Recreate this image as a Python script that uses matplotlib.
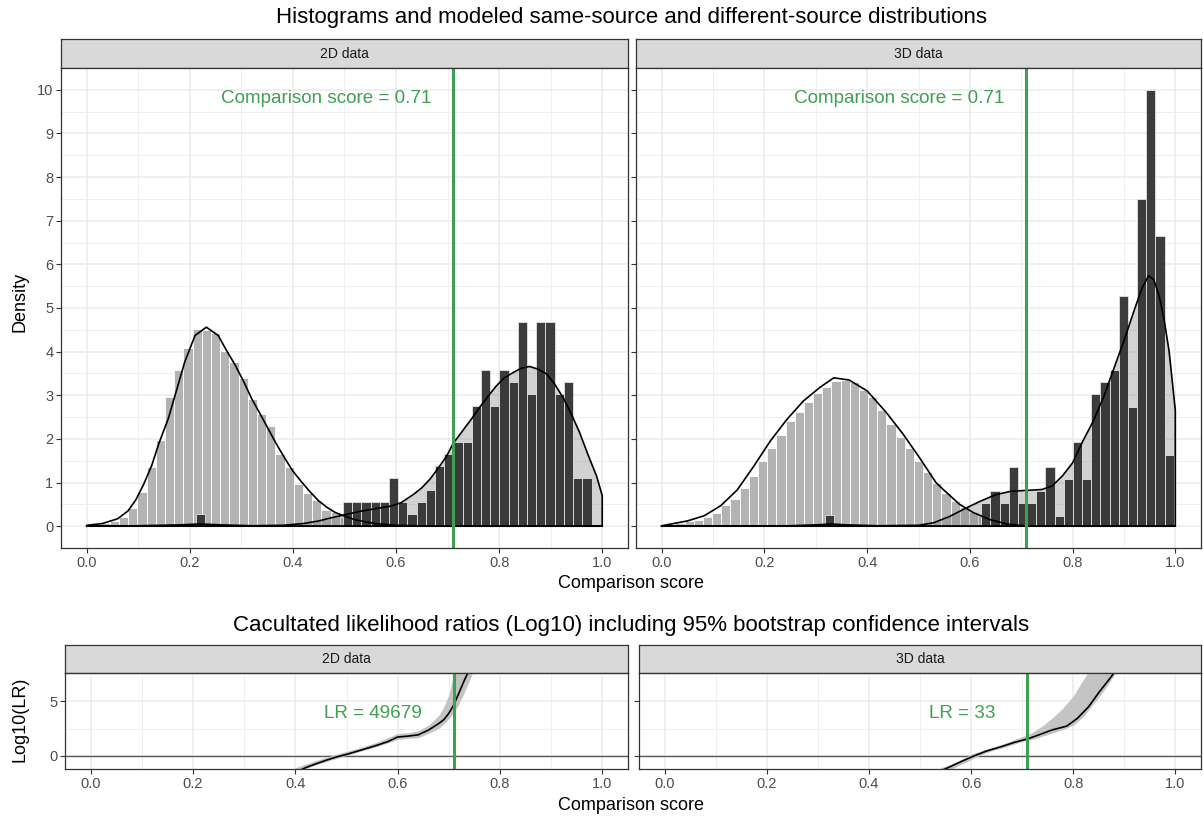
import matplotlib
matplotlib.use('Agg')
import matplotlib.pyplot as plt
import numpy as np

plt.rcParams['font.family'] = ['Liberation Sans', 'DejaVu Sans']

# ---------------- data ----------------
panels = ['2D data', '3D data']
score = 0.71
lr_values = ['49679', '33']
bin_width = 1 / 56
ds_first_center = 0.0
ss_first_center = 0.006

# different-source histogram densities (light bars)
ds_hist_2d = [0.02, 0.04, 0.07, 0.13, 0.21, 0.41, 0.78, 1.35, 1.98, 2.96,
              3.57, 4.08, 4.53, 4.49, 4.43, 4.01, 3.76, 3.39, 2.92, 2.58,
              2.29, 1.66, 1.35, 0.97, 0.76, 0.59, 0.38, 0.32, 0.22, 0.15,
              0.10, 0.07, 0.05, 0.03, 0.02, 0.02, 0.01]
ds_hist_3d = [0.01, 0.04, 0.07, 0.11, 0.15, 0.20, 0.30, 0.48, 0.62, 0.88,
              1.14, 1.50, 1.80, 2.10, 2.40, 2.62, 2.85, 3.05, 3.20, 3.33,
              3.35, 3.30, 3.12, 2.95, 2.66, 2.35, 2.05, 1.80, 1.50, 1.25,
              0.98, 0.76, 0.58, 0.44, 0.32, 0.23, 0.16, 0.11, 0.07, 0.04,
              0.02, 0.01]
# same-source histogram densities (dark bars)
ss_hist_2d = [0, 0, 0, 0, 0, 0, 0, 0, 0, 0,
              0, 0, 0.27, 0, 0, 0, 0, 0, 0, 0,
              0, 0, 0, 0, 0, 0, 0, 0, 0.55, 0.55,
              0.55, 0.55, 0.55, 1.10, 0.55, 0.27, 0.55, 0.82, 1.37, 1.65,
              1.92, 1.92, 2.75, 3.57, 2.75, 3.57, 3.30, 4.67, 3.02, 4.67,
              4.67, 3.02, 3.30, 1.10, 1.10, 0]
ss_hist_3d = [0, 0, 0, 0, 0, 0, 0, 0, 0, 0,
              0, 0, 0, 0, 0, 0, 0, 0, 0.25, 0,
              0, 0, 0, 0, 0, 0, 0, 0, 0, 0,
              0, 0, 0, 0, 0, 0.52, 0.80, 0.52, 1.36, 0.52,
              0.52, 0.80, 1.36, 0.24, 1.08, 1.92, 1.08, 3.03, 3.31, 3.59,
              5.27, 2.74, 7.49, 10.0, 6.64, 1.63]

# modeled densities
ds_curve_2d_x = [0.0, 0.03, 0.06, 0.08, 0.095, 0.11, 0.126, 0.14, 0.158, 0.175,
                 0.19, 0.21, 0.232, 0.255, 0.27, 0.288, 0.305, 0.32, 0.336, 0.352,
                 0.368, 0.385, 0.40, 0.417, 0.433, 0.449, 0.465, 0.481, 0.50, 0.52,
                 0.54, 0.56, 0.58, 0.60, 0.64, 0.70, 1.0]
ds_curve_2d_y = [0.02, 0.06, 0.17, 0.35, 0.60, 0.95, 1.39, 1.90, 2.46, 3.15,
                 3.76, 4.37, 4.56, 4.37, 4.05, 3.69, 3.30, 2.92, 2.58, 2.23,
                 1.88, 1.54, 1.26, 1.01, 0.79, 0.59, 0.44, 0.32, 0.23, 0.15,
                 0.10, 0.06, 0.04, 0.02, 0.01, 0.0, 0.0]
ss_curve_2d_x = [0.0, 0.10, 0.18, 0.22, 0.26, 0.32, 0.38, 0.42, 0.45, 0.47,
                 0.50, 0.53, 0.56, 0.59, 0.61, 0.634, 0.65, 0.666, 0.68, 0.698,
                 0.71, 0.73, 0.746, 0.762, 0.78, 0.795, 0.81, 0.827, 0.843, 0.859,
                 0.875, 0.892, 0.908, 0.924, 0.94, 0.956, 0.972, 0.989, 1.0]
ss_curve_2d_y = [0.0, 0.01, 0.03, 0.05, 0.03, 0.01, 0.02, 0.06, 0.12, 0.18,
                 0.26, 0.34, 0.40, 0.46, 0.54, 0.73, 0.88, 1.08, 1.30, 1.60,
                 1.88, 2.20, 2.45, 2.72, 3.00, 3.22, 3.40, 3.52, 3.62, 3.66,
                 3.60, 3.49, 3.25, 2.95, 2.57, 2.15, 1.65, 1.15, 0.70]
ds_curve_3d_x = [0.0, 0.05, 0.083, 0.115, 0.147, 0.179, 0.212, 0.244, 0.276, 0.308,
                 0.335, 0.365, 0.40, 0.437, 0.47, 0.502, 0.534, 0.55, 0.566, 0.58,
                 0.607, 0.639, 0.672, 0.704, 0.75, 1.0]
ds_curve_3d_y = [0.01, 0.12, 0.24, 0.47, 0.83, 1.37, 1.96, 2.45, 2.87, 3.18,
                 3.40, 3.35, 3.10, 2.61, 2.11, 1.57, 1.00, 0.82, 0.65, 0.50,
                 0.31, 0.15, 0.05, 0.01, 0.0, 0.0]
ss_curve_3d_x = [0.0, 0.25, 0.30, 0.33, 0.36, 0.42, 0.50, 0.53, 0.56, 0.59,
                 0.62, 0.65, 0.68, 0.71, 0.74, 0.76, 0.78, 0.80, 0.82, 0.84,
                 0.86, 0.88, 0.90, 0.92, 0.935, 0.948, 0.958, 0.968, 0.978, 0.988,
                 1.0]
ss_curve_3d_y = [0.0, 0.01, 0.03, 0.05, 0.03, 0.01, 0.02, 0.08, 0.22, 0.40,
                 0.57, 0.72, 0.80, 0.82, 0.84, 0.92, 1.15, 1.45, 1.95, 2.40,
                 2.95, 3.60, 4.25, 4.95, 5.45, 5.74, 5.65, 5.30, 4.75, 4.00,
                 2.65]

# log10(LR) curves and bootstrap bands
lr_2d_x = [0.40, 0.42, 0.44, 0.46, 0.48, 0.50, 0.52, 0.54, 0.56, 0.58,
           0.60, 0.62, 0.64, 0.66, 0.68, 0.69, 0.70, 0.71, 0.72, 0.73, 0.74]
lr_2d_y = [-1.55, -1.10, -0.75, -0.42, -0.12, 0.12, 0.40, 0.68, 0.97, 1.28,
           1.72, 1.80, 1.92, 2.35, 2.95, 3.30, 3.90, 4.70, 5.80, 6.90, 7.90]
band_2d_x = [0.40, 0.44, 0.48, 0.52, 0.56, 0.60, 0.62, 0.64, 0.66, 0.68,
             0.69, 0.70, 0.71, 0.72, 0.73, 0.74, 0.75]
band_2d_lo = [-1.5, -0.85, -0.25, 0.30, 0.85, 1.50, 1.60, 1.65, 2.05, 2.50,
              2.90, 3.40, 4.00, 4.80, 5.80, 6.90, 8.00]
band_2d_hi = [-1.1, -0.45, 0.15, 0.65, 1.25, 2.05, 2.10, 2.30, 2.80, 3.70,
              4.50, 5.60, 7.70, 9.0, 10.0, 11.0, 12.0]
lr_3d_x = [0.54, 0.552, 0.573, 0.602, 0.63, 0.659, 0.687, 0.711, 0.737, 0.758,
           0.787, 0.808, 0.83, 0.851, 0.869, 0.879, 0.89]
lr_3d_y = [-1.40, -1.16, -0.70, -0.09, 0.43, 0.83, 1.26, 1.55, 1.99, 2.36,
           2.72, 3.43, 4.50, 5.87, 6.94, 7.56, 8.30]
band_3d_x = [0.54, 0.56, 0.58, 0.60, 0.62, 0.64, 0.66, 0.68, 0.70, 0.72,
             0.74, 0.76, 0.78, 0.80, 0.82, 0.84, 0.86, 0.88, 0.89]
band_3d_lo = [-1.6, -1.25, -0.80, -0.35, 0.10, 0.45, 0.70, 1.00, 1.30, 1.50,
              1.80, 2.10, 2.40, 2.80, 3.60, 4.80, 6.00, 7.40, 8.20]
band_3d_hi = [-1.1, -0.80, -0.35, 0.15, 0.45, 0.75, 1.05, 1.40, 1.75, 2.15,
              2.75, 3.50, 4.40, 5.50, 7.00, 8.50, 10.0, 11.0, 12.0]

x_ticks = [0.0, 0.2, 0.4, 0.6, 0.8, 1.0]
x_tick_labels = ['0.0', '0.2', '0.4', '0.6', '0.8', '1.0']
dens_ticks = list(range(0, 11))
lr_ticks = [0, 5]

title_top = 'Histograms and modeled same-source and different-source distributions'
title_bottom = 'Cacultated likelihood ratios (Log10) including 95% bootstrap confidence intervals'

# ---------------- style ----------------
W, H = 1203, 816
fig = plt.figure(figsize=(W / 100, H / 100), dpi=100)
GREEN = '#40a052'
BORDER = '#333333'
GRID = '#ebebeb'
TICKC = '#4d4d4d'


def ax_px(l, t, r, b):
    return fig.add_axes([l / W, 1 - b / H, (r - l) / W, (b - t) / H])


def style_axes(ax, xlim, ylim, yticks, yminor, show_y):
    ax.set_xlim(*xlim)
    ax.set_ylim(*ylim)
    ax.set_xticks(x_ticks)
    ax.set_xticklabels(x_tick_labels)
    ax.set_xticks([0.1, 0.3, 0.5, 0.7, 0.9], minor=True)
    ax.set_yticks(yticks)
    ax.set_yticks(yminor, minor=True)
    if not show_y:
        ax.set_yticklabels([])
        ax.tick_params(axis='y', which='both', length=0)
    ax.grid(which='major', color=GRID, lw=1.1, zorder=0)
    ax.grid(which='minor', color=GRID, lw=0.55, zorder=0)
    ax.set_axisbelow(True)
    ax.tick_params(which='minor', length=0)
    ax.tick_params(which='major', length=3.5, width=0.8, color=BORDER,
                   labelsize=10.5, labelcolor=TICKC, pad=2)
    for s in ax.spines.values():
        s.set_color(BORDER)
        s.set_linewidth(0.9)
        s.set_zorder(10)


def strip(l, t, r, b, label):
    sa = ax_px(l, t, r, b)
    sa.set_facecolor('#d9d9d9')
    sa.set_xticks([])
    sa.set_yticks([])
    for s in sa.spines.values():
        s.set_color(BORDER)
        s.set_linewidth(0.9)
    sa.text(0.5, 0.5, label, ha='center', va='center', fontsize=10,
            color='#1a1a1a', transform=sa.transAxes)


top_boxes = [(61, 628), (636, 1201)]
bot_boxes = [(65, 628), (639, 1201)]
ds_hists = [ds_hist_2d, ds_hist_3d]
ss_hists = [ss_hist_2d, ss_hist_3d]
ds_curves = [(ds_curve_2d_x, ds_curve_2d_y), (ds_curve_3d_x, ds_curve_3d_y)]
ss_curves = [(ss_curve_2d_x, ss_curve_2d_y), (ss_curve_3d_x, ss_curve_3d_y)]
lr_curves = [(lr_2d_x, lr_2d_y), (lr_3d_x, lr_3d_y)]
bands = [(band_2d_x, band_2d_lo, band_2d_hi), (band_3d_x, band_3d_lo, band_3d_hi)]

for i, name in enumerate(panels):
    l, r = top_boxes[i]
    strip(l, 39, r, 68, name)
    ax = ax_px(l, 68, r, 548)
    style_axes(ax, (-0.05, 1.05), (-0.5, 10.5), dens_ticks,
               np.arange(0.5, 10.5, 1.0), i == 0)

    ds = np.array(ds_hists[i])
    cds = ds_first_center + np.arange(len(ds)) * bin_width
    m = ds > 0
    ax.bar(cds[m], ds[m], width=bin_width, color='#b3b3b3', edgecolor='white',
           linewidth=0.6, zorder=2)

    sx, sy = ss_curves[i]
    ax.fill_between(sx, 0, sy, color='#7f7f7f', alpha=0.35, lw=0, zorder=3)

    ss = np.array(ss_hists[i])
    css = ss_first_center + np.arange(len(ss)) * bin_width
    m = ss > 0
    ax.bar(css[m], ss[m], width=bin_width, color='#353535', edgecolor='#e6e6e6',
           linewidth=0.6, alpha=0.97, zorder=4)

    for (cx, cy) in (ds_curves[i], ss_curves[i]):
        px = np.r_[cx[0], cx, cx[-1], cx[0]]
        py = np.r_[0, cy, 0, 0]
        ax.plot(px, py, color='black', lw=1.2, zorder=5, solid_joinstyle='round')

    ax.axvline(score, color=GREEN, lw=2.2, zorder=6)
    ax.text(0.668, 9.79, 'Comparison score = 0.71', ha='right', va='center',
            color=GREEN, fontsize=13.6, zorder=7)

    # bottom LR panels
    l, r = bot_boxes[i]
    strip(l, 645, r, 673, name)
    bx = ax_px(l, 673, r, 769)
    style_axes(bx, (-0.05, 1.05), (-1.22, 7.6), lr_ticks, [2.5, 7.5], i == 0)
    bx.axhline(0, color='#5a5a5a', lw=1.0, zorder=2)
    bxs, blo, bhi = bands[i]
    bx.fill_between(bxs, blo, bhi, color='#c4c4c4', lw=0, zorder=3)
    lx, ly = lr_curves[i]
    bx.plot(lx, ly, color='black', lw=1.2, zorder=4)
    bx.axvline(score, color=GREEN, lw=2.2, zorder=5)
    bx.text(0.648, 3.85, 'LR = ' + lr_values[i], ha='right', va='center',
            color=GREEN, fontsize=13.6, zorder=6)

fig.text(631 / W, 1 - 18 / H, title_top, ha='center', va='center', fontsize=16,
         color='black')
fig.text(631 / W, 1 - 625 / H, title_bottom, ha='center', va='center',
         fontsize=16, color='black')
fig.text(631 / W, 1 - 584 / H, 'Comparison score', ha='center', va='center',
         fontsize=13)
fig.text(631 / W, 1 - 805 / H, 'Comparison score', ha='center', va='center',
         fontsize=13)
fig.text(20 / W, 1 - 302 / H, 'Density', ha='center', va='center', rotation=90,
         fontsize=13)
fig.text(20 / W, 1 - 719 / H, 'Log10(LR)', ha='center', va='center', rotation=90,
         fontsize=13)

fig.savefig('out.png', dpi=100, facecolor='white')
